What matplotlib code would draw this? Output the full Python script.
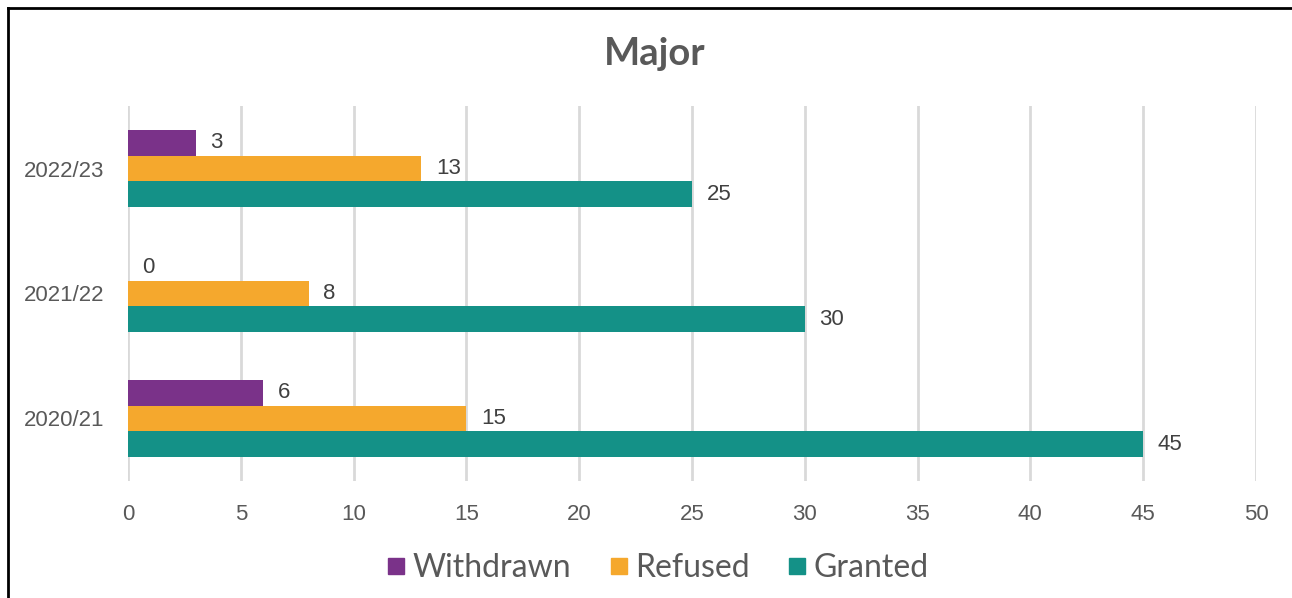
import matplotlib
matplotlib.use("Agg")
import matplotlib.pyplot as plt
import numpy as np
from matplotlib.lines import Line2D

# Data
years = ["2020/21", "2021/22", "2022/23"]
withdrawn = [6, 0, 3]
refused = [15, 8, 13]
granted = [45, 30, 25]

series_names = ["Withdrawn", "Refused", "Granted"]
colors = ["#7A3289", "#F5A82D", "#149187"]
grid_color = "#D9D9D9"
text_color = "#595959"

fig = plt.figure(figsize=(12.92, 5.98), dpi=100)
ax = fig.add_axes([0.0991, 0.1957, 0.8730, 0.6270])

y = np.arange(len(years))
h = 0.206
offsets = [h, 0, -h]

for vals, off, col, name in zip([withdrawn, refused, granted], offsets, colors, series_names):
    bars = ax.barh(y + off, vals, height=h, color=col, label=name, zorder=3)
    ax.bar_label(bars, labels=[str(v) for v in vals], padding=10.5,
                 fontsize=16, color="#404040", family="Liberation Sans")

ax.set_xlim(0, 50)
ax.set_ylim(-0.5, 2.5)
ax.set_xticks(np.arange(0, 51, 5))
ax.set_yticks(y)
ax.set_yticklabels(years)
ax.grid(axis="x", color=grid_color, linewidth=2, zorder=0)
ax.tick_params(axis="both", length=0, labelsize=16, colors=text_color)
ax.tick_params(axis="x", pad=16.5)
ax.tick_params(axis="y", pad=17)
for lab in ax.get_xticklabels() + ax.get_yticklabels():
    lab.set_family("Liberation Sans")
for s in ax.spines.values():
    s.set_visible(False)

fig.text(0.5065, 0.909, "Major", ha="center", va="center", fontsize=27.5,
         fontweight="bold", color=text_color, family="Lato")

handles = [Line2D([], [], marker="s", linestyle="none", markersize=11.5,
                  markerfacecolor=c, markeredgecolor=c) for c in colors]
fig.legend(handles, series_names, loc="center", bbox_to_anchor=(0.504, 0.05),
           ncol=3, frameon=False, handletextpad=-0.2, handlelength=1.4,
           columnspacing=0.8, prop={"family": "Lato", "size": 23},
           labelcolor=text_color)

# frame lines on the left and top of the figure
fig.add_artist(Line2D([0.0062, 0.0062], [0, 0.986], transform=fig.transFigure,
                      color="black", linewidth=2))
fig.add_artist(Line2D([0.0062, 1], [0.986, 0.986], transform=fig.transFigure,
                      color="black", linewidth=2))

fig.savefig("out.png", dpi=100)
